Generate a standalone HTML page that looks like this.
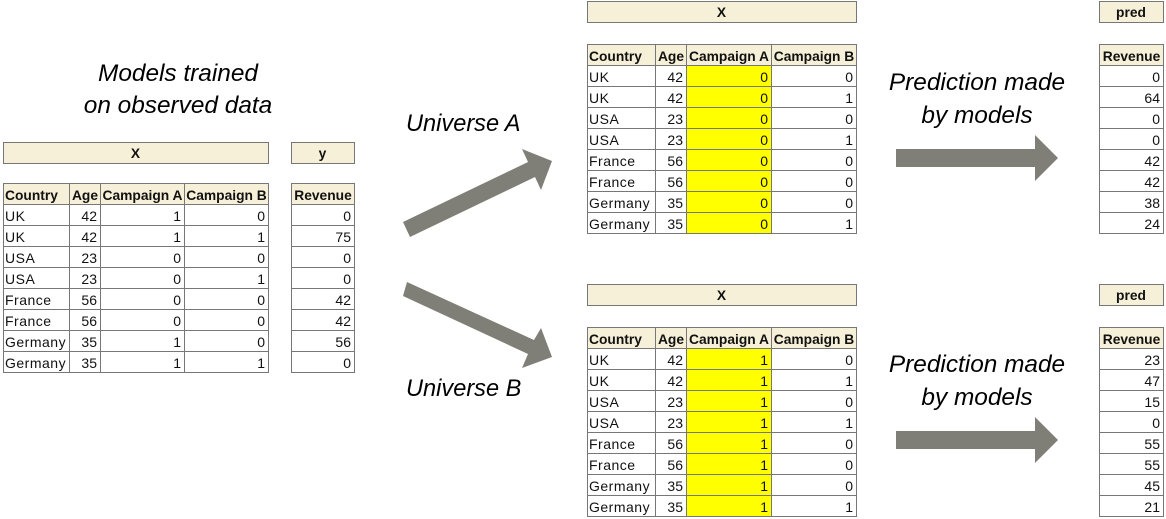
<!DOCTYPE html>
<html lang="en">
<head>
<meta charset="utf-8">
<title>Counterfactual universes for model predictions</title>
<style>
html,body{margin:0;padding:0;background:#fff;width:1166px;height:519px;overflow:hidden}
svg{display:block}
text{font-family:"Liberation Sans",sans-serif;fill:#111}
.cell{font-size:14px}
.word{font-size:14px;letter-spacing:.5px}
.head{font-size:13.8px;font-weight:bold}
.cap{font-size:24.4px;font-style:italic;fill:#000}
.uni{font-size:23.6px;font-style:italic;fill:#000}
</style>
</head>
<body>
<svg id="d" width="1166" height="519" viewBox="0 0 1166 519" xmlns="http://www.w3.org/2000/svg">
<text class="cap" x="178" y="81" text-anchor="middle">Models trained</text>
<text class="cap" x="178" y="113" text-anchor="middle">on observed data</text>
<text class="uni" x="406" y="131">Universe A</text>
<text class="uni" x="406" y="396">Universe B</text>
<text class="cap" x="977" y="90" text-anchor="middle">Prediction made</text>
<text class="cap" x="977" y="123" text-anchor="middle">by models</text>
<text class="cap" x="977" y="372" text-anchor="middle">Prediction made</text>
<text class="cap" x="977" y="405" text-anchor="middle">by models</text>
<polygon fill="#7f7f78" points="403,222 410,237 535,177 541,190 552,161 522,149 528,162"/>
<polygon fill="#7f7f78" points="407,282 403,296 528,354 522,368 552,357 541,328 534,340"/>
<polygon fill="#7f7f78" points="896,149 1035,149 1035,135 1058,158 1035,181 1035,167 896,167"/>
<polygon fill="#7f7f78" points="896,431 1035,431 1035,417 1058,440 1035,463 1035,449 896,449"/>
</svg>
<script>
var countries = ["UK","UK","USA","USA","France","France","Germany","Germany"];
var ages = [42,42,23,23,56,56,35,35];
var campaignB = [0,1,0,1,0,0,0,1];
var observedCampaignA = [1,1,0,0,0,0,1,1];
var observedCampaignB = [0,1,0,1,0,0,0,1];
var observedRevenue = [0,75,0,0,42,42,56,0];
var universeACampaignA = [0,0,0,0,0,0,0,0];
var universeBCampaignA = [1,1,1,1,1,1,1,1];
var universeARevenue = [0,64,0,0,42,42,38,24];
var universeBRevenue = [23,47,15,0,55,55,45,21];
var featureHeaders = ["Country","Age","Campaign A","Campaign B"];

var svg = document.getElementById('d');
var NS = 'http://www.w3.org/2000/svg';
var ROW = 21;
var LINE = '#777777';
var CREAM = '#f7f0d8';

function shape(tag, attrs, parent) {
  var e = document.createElementNS(NS, tag);
  for (var k in attrs) e.setAttribute(k, attrs[k]);
  (parent || svg).appendChild(e);
  return e;
}
function group(name) {
  var g = document.createElementNS(NS, 'g');
  
  
  svg.appendChild(g);
  return g;
}
function label(g, x, y, str, cls, anchor) {
  var t = shape('text', {x: x, y: y, 'class': cls, 'text-anchor': anchor}, g);
  t.textContent = str;
  
  
  return t;
}
function titleBox(x0, x1, y0, y1, str, name) {
  var g = group(name);
  shape('rect', {x: x0 + .5, y: y0 + .5, width: x1 - x0, height: y1 - y0, fill: CREAM, stroke: LINE}, g);
  label(g, (x0 + x1) / 2, y0 + 16, str, 'head', 'middle');
}
function drawTable(name, edges, top, headers, cols, highlight) {
  var g = group(name);
  var x0 = edges[0], x1 = edges[edges.length - 1];
  var headBottom = top + ROW;
  var rows = cols[0].length;
  shape('rect', {x: x0, y: top, width: x1 - x0, height: ROW, fill: CREAM}, g);
  if (highlight >= 0) {
    shape('rect', {x: edges[highlight], y: headBottom, width: edges[highlight + 1] - edges[highlight], height: rows * ROW, fill: '#ffff00'}, g);
  }
  for (var r = 0; r <= rows + 1; r++) {
    var y = r === 0 ? top : headBottom + (r - 1) * ROW;
    shape('line', {x1: x0, x2: x1, y1: y + .5, y2: y + .5, stroke: LINE}, g);
  }
  for (var e = 0; e < edges.length; e++) {
    shape('line', {x1: edges[e] + .5, x2: edges[e] + .5, y1: top, y2: headBottom + rows * ROW + 1, stroke: LINE}, g);
  }
  for (var c = 0; c < headers.length; c++) {
    if (c === 0 && headers.length > 1) label(g, edges[0] + 2, top + 17, headers[c], 'head', 'start');
    else label(g, (edges[c] + edges[c + 1]) / 2 + .5, top + 17, headers[c], 'head', 'middle');
    for (var i = 0; i < rows; i++) {
      var by = headBottom + i * ROW + 17;
      var v = cols[c][i];
      if (typeof v === 'string') label(g, edges[c] + 2, by, v, 'word', 'start');
      else label(g, edges[c + 1] - 3, by, v, 'cell', 'end');
    }
  }
}

var leftEdges = [3, 69, 100, 184, 268];
var rightEdges = [587, 655, 686, 771, 856];

titleBox(3, 268, 142, 163, 'X', 'observed-x-title');
titleBox(291, 354, 142, 163, 'y', 'observed-y-title');
drawTable('observed-features-table', leftEdges, 183, featureHeaders, [countries, ages, observedCampaignA, observedCampaignB], -1);
drawTable('observed-revenue-table', [291, 354], 183, ['Revenue'], [observedRevenue], -1);

titleBox(587, 856, 1, 22, 'X', 'universe-a-x-title');
titleBox(1099, 1163, 1, 22, 'pred', 'universe-a-pred-title');
drawTable('universe-a-features-table', rightEdges, 44, featureHeaders, [countries, ages, universeACampaignA, campaignB], 2);
drawTable('universe-a-revenue-table', [1099, 1163], 44, ['Revenue'], [universeARevenue], -1);

titleBox(587, 856, 284, 305, 'X', 'universe-b-x-title');
titleBox(1099, 1163, 284, 305, 'pred', 'universe-b-pred-title');
drawTable('universe-b-features-table', rightEdges, 327, featureHeaders, [countries, ages, universeBCampaignA, campaignB], 2);
drawTable('universe-b-revenue-table', [1099, 1163], 327, ['Revenue'], [universeBRevenue], -1);
</script>
</body>
</html>
